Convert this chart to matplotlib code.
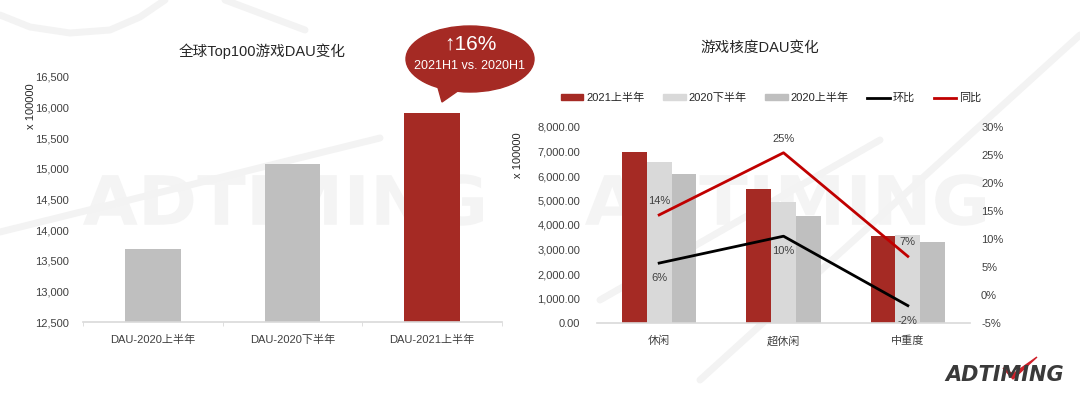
import matplotlib
matplotlib.use("Agg")
import matplotlib.pyplot as plt
from matplotlib.patches import Ellipse, Polygon, Patch, PathPatch
from matplotlib.lines import Line2D
from matplotlib.textpath import TextPath
from matplotlib.font_manager import FontProperties
from matplotlib.transforms import Affine2D
import matplotlib.ticker as mticker
import numpy as np

plt.rcParams['font.family'] = ['Liberation Sans', 'Noto Sans CJK SC', 'DejaVu Sans']
plt.rcParams['axes.unicode_minus'] = False

# ---------------- data ----------------
left_title = "全球Top100游戏DAU变化"
left_categories = ["DAU-2020上半年", "DAU-2020下半年", "DAU-2021上半年"]
left_values = [13700, 15085, 15905]
left_colors = ["#BFBFBF", "#BFBFBF", "#A52A24"]
left_ticks = [12500, 13000, 13500, 14000, 14500, 15000, 15500, 16000, 16500]
bubble_big = "↑16%"
bubble_small = "2021H1 vs. 2020H1"

right_title = "游戏核度DAU变化"
right_categories = ["休闲", "超休闲", "中重度"]
series_names = ["2021上半年", "2020下半年", "2020上半年"]
dau_2021h1 = [6960, 5475, 3535]
dau_2020h2 = [6565, 4940, 3590]
dau_2020h1 = [6075, 4370, 3305]
series_colors = ["#A52A24", "#D9D9D9", "#BFBFBF"]
hb_name = "环比"
hb_values = [0.057, 0.105, -0.019]
tb_name = "同比"
tb_values = [0.143, 0.254, 0.069]
right_ticks_left = [0, 1000, 2000, 3000, 4000, 5000, 6000, 7000, 8000]
right_ticks_right = [-0.05, 0.0, 0.05, 0.10, 0.15, 0.20, 0.25, 0.30]
unit_label = "x 100000"

W, H = 1080, 397
fig = plt.figure(figsize=(W / 100, H / 100), dpi=100)
fig.patch.set_facecolor("white")

def fbox(x0, y0, x1, y1):
    return [x0 / W, 1 - y1 / H, (x1 - x0) / W, (y1 - y0) / H]

# ---------------- background decoration ----------------
bg = fig.add_axes([0, 0, 1, 1], zorder=-5)
bg.set_xlim(0, W); bg.set_ylim(H, 0); bg.axis("off")
deco = [([0, 30, 70, 110, 140, 165], [15, 27, 33, 30, 17, 0]),
        ([0, 380], [232, 138]),
        ([225, 305], [0, 30]),
        ([700, 1080], [380, 35]),
        ([600, 880], [300, 140])]
for xs, ys in deco:
    bg.plot(xs, ys, color="#F3F3F3", lw=5, solid_capstyle="round")

wm_fp = FontProperties(family="DejaVu Sans", weight="bold")
for cx in (283, 785):
    tp = TextPath((0, 0), "ADTIMING", size=68, prop=wm_fp)
    ext = tp.get_extents()
    tr = Affine2D().translate(-(ext.x0 + ext.x1) / 2, -(ext.y0 + ext.y1) / 2) \
        .scale(400 / ext.width, -1).translate(cx, 200)
    bg.add_patch(PathPatch(tr.transform_path(tp), color="#F4F4F4", lw=0))

# ---------------- left chart ----------------
axl = fig.add_axes(fbox(83, 77, 502, 322))
axl.set_facecolor("none")
xl = np.arange(len(left_categories))
axl.bar(xl, [v - left_ticks[0] for v in left_values], bottom=left_ticks[0],
        width=0.4, color=left_colors, zorder=2)
axl.set_xlim(-0.5, 2.5)
axl.set_ylim(left_ticks[0], left_ticks[-1])
axl.set_yticks(left_ticks)
axl.yaxis.set_major_formatter(mticker.StrMethodFormatter("{x:,.0f}"))
axl.set_xticks(xl)
axl.set_xticklabels(left_categories)
axl.set_xticks([-0.5, 0.5, 1.5, 2.5], minor=True)
for s in ["top", "right", "left"]:
    axl.spines[s].set_visible(False)
axl.spines["bottom"].set_color("#D9D9D9")
axl.spines["bottom"].set_linewidth(1.2)
axl.tick_params(axis="y", length=0, labelsize=8, colors="#404040", pad=10)
axl.tick_params(axis="x", which="major", length=0, labelsize=8, colors="#404040", pad=9)
axl.tick_params(axis="x", which="minor", length=3, color="#D9D9D9")
fig.text(262 / W, 1 - 51 / H, left_title, fontsize=10.5, color="#262626",
         ha="center", va="center")
fig.text(31 / W, 1 - 106 / H, unit_label, fontsize=8, rotation=90, color="#262626",
         ha="center", va="center")

# ---------------- right chart ----------------
axr = fig.add_axes(fbox(597, 127, 970, 323))
axr.set_facecolor("none")
xr = np.arange(len(right_categories))
bw = 0.2
for i, (vals, name, col) in enumerate(zip([dau_2021h1, dau_2020h2, dau_2020h1],
                                          series_names, series_colors)):
    axr.bar(xr + (i - 1) * bw, vals, width=bw, color=col, zorder=2, label=name)
axr.set_xlim(-0.5, 2.5)
axr.set_ylim(0, 8000)
axr.set_yticks(right_ticks_left)
axr.yaxis.set_major_formatter(mticker.StrMethodFormatter("{x:,.2f}"))
axr.set_xticks(xr)
axr.set_xticklabels(right_categories)
for s in ["top", "right", "left"]:
    axr.spines[s].set_visible(False)
axr.spines["bottom"].set_color("#D9D9D9")
axr.spines["bottom"].set_linewidth(1.2)
axr.tick_params(axis="y", length=0, labelsize=8, colors="#404040", pad=12)
axr.tick_params(axis="x", length=0, labelsize=8, colors="#404040", pad=9)

ax2 = axr.twinx()
ax2.set_ylim(-0.05, 0.30)
ax2.set_yticks(right_ticks_right)
ax2.yaxis.set_major_formatter(mticker.PercentFormatter(1.0, decimals=0))
for s in ["top", "right", "left", "bottom"]:
    ax2.spines[s].set_visible(False)
ax2.tick_params(axis="y", length=0, labelsize=8, colors="#404040", pad=8)
ax2.plot(xr, hb_values, color="#000000", lw=2.0, zorder=3)
ax2.plot(xr, tb_values, color="#C00000", lw=2.0, zorder=3)
for x, v in zip(xr, tb_values):
    ax2.annotate(f"{v:.0%}", (x, v), xytext=(0, 10), textcoords="offset points",
                 ha="center", va="center", fontsize=8, color="#404040")
for x, v in zip(xr, hb_values):
    ax2.annotate(f"{v:.0%}", (x, v), xytext=(0, -11), textcoords="offset points",
                 ha="center", va="center", fontsize=8, color="#404040")
fig.text(760 / W, 1 - 48 / H, right_title, fontsize=10.5, color="#262626",
         ha="center", va="center")
fig.text(518 / W, 1 - 155 / H, unit_label, fontsize=8, rotation=90, color="#262626",
         ha="center", va="center")

handles = [Patch(color=c) for c in series_colors] + [
    Line2D([], [], color="#000000", lw=2.0), Line2D([], [], color="#C00000", lw=2.0)]
labels = series_names + [hb_name, tb_name]
fig.legend(handles, labels, loc="center", bbox_to_anchor=(771 / W, 1 - 98 / H),
           ncol=5, frameon=False, fontsize=8, handlelength=2.0, handleheight=0.5,
           handletextpad=0.25, columnspacing=1.7, labelcolor="#262626")

# ---------------- foreground: bubble and logo ----------------
fg = fig.add_axes([0, 0, 1, 1], zorder=10)
fg.set_xlim(0, W); fg.set_ylim(H, 0); fg.axis("off")
bubble_red = "#A52A24"
fg.add_patch(Ellipse((470, 59), 128, 66, color=bubble_red))
fg.add_patch(Polygon([(437, 84), (442, 102), (462, 88)], closed=True, color=bubble_red))
fg.text(470, 44, bubble_big, fontsize=15, color="white", ha="center", va="center")
fg.text(470, 66, bubble_small, fontsize=9, color="white", ha="center", va="center")

fg.text(1005, 375, "ADTIMING", fontsize=15, fontweight="bold", fontstyle="italic",
        color="#3A3A3A", ha="center", va="center", family="DejaVu Sans")
fg.add_patch(Polygon([(1003, 368), (1013, 379), (1037, 357), (1013, 374)],
                     closed=True, color="#D0202A"))

fig.savefig("out.png", dpi=100, facecolor="white")
